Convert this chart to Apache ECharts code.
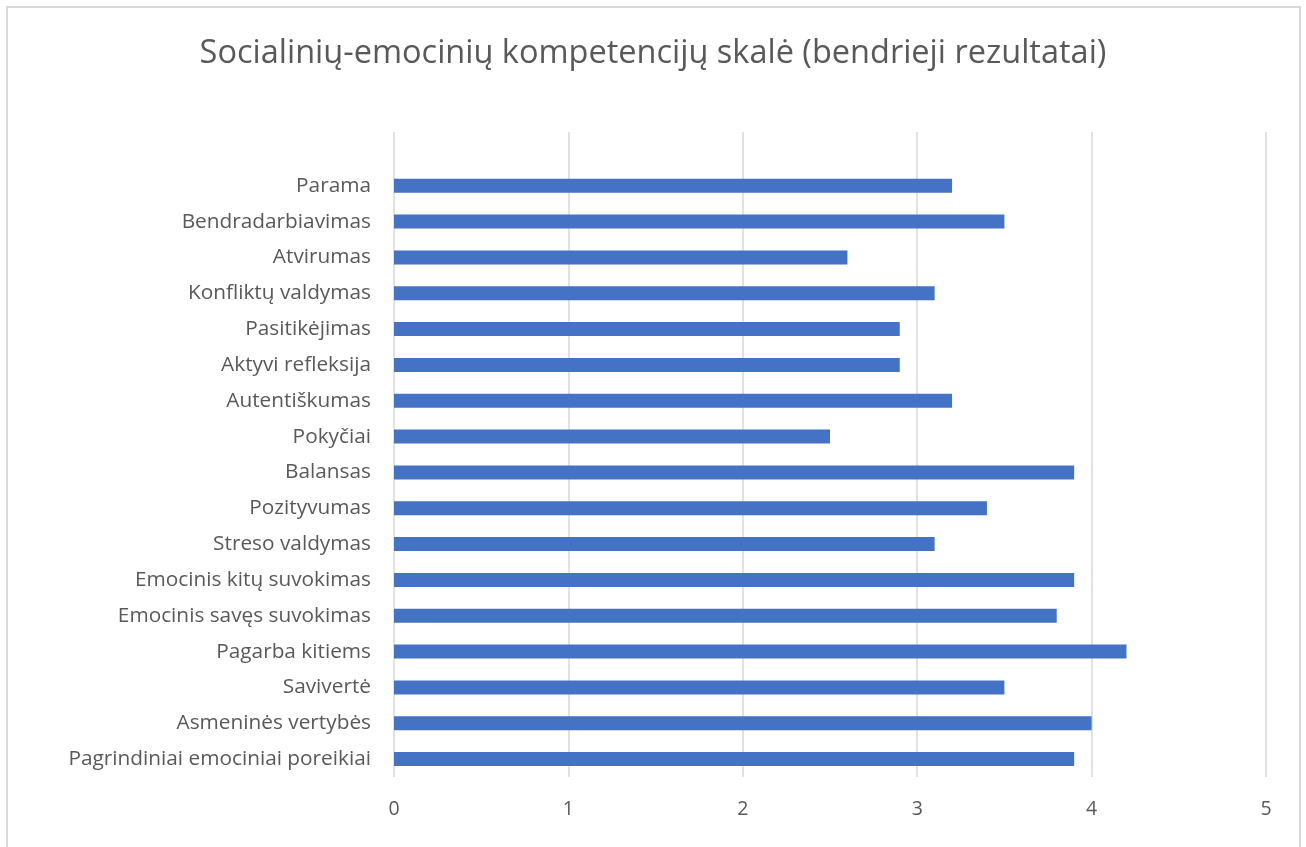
<!DOCTYPE html>
<html>
<head>
<meta charset="utf-8">
<script src="https://cdn.jsdelivr.net/npm/echarts@6/dist/echarts.min.js"></script>
<style>
  html, body { margin: 0; padding: 0; background: #fff; }
  #frame {
    position: absolute; left: 6px; top: 6px; width: 1295px; height: 860px;
    border: 2px solid #d9d9d9; box-sizing: border-box;
  }
  #chart { position: absolute; left: 0; top: 0; width: 1306px; height: 847px; }
</style>
</head>
<body>
<div id="frame"></div>
<div id="chart"></div>
<script>
const chart = echarts.init(document.getElementById('chart'));

// categories bottom to top, as the axis draws them
const categories = [
  'Pagrindiniai emociniai poreikiai',
  'Asmeninės vertybės',
  'Savivertė',
  'Pagarba kitiems',
  'Emocinis savęs suvokimas',
  'Emocinis kitų suvokimas',
  'Streso valdymas',
  'Pozityvumas',
  'Balansas',
  'Pokyčiai',
  'Autentiškumas',
  'Aktyvi refleksija',
  'Pasitikėjimas',
  'Konfliktų valdymas',
  'Atvirumas',
  'Bendradarbiavimas',
  'Parama'
];
const values = [3.9, 4.0, 3.5, 4.2, 3.8, 3.9, 3.1, 3.4, 3.9, 2.5, 3.2, 2.9, 2.9, 3.1, 2.6, 3.5, 3.2];
const xTicks = [0, 1, 2, 3, 4, 5];

const textColor = '#595959';
const fontFamily = '"Open Sans", "Noto Sans", sans-serif';

// Excel leaves one empty slot above the top bar
const axisCats = [...categories, ''];
const axisVals = [...values, null];

const option = {
  animation: false,
  title: {
    text: 'Socialinių-emocinių kompetencijų skalė (bendrieji rezultatai)',
    left: 'center',
    top: 32,
    textStyle: { color: textColor, fontSize: 32.5, fontWeight: 'normal', fontFamily }
  },
  grid: { left: 394, right: 40, top: 132, bottom: 70, containLabel: false },
  xAxis: {
    type: 'value',
    min: xTicks[0],
    max: xTicks[xTicks.length - 1],
    interval: 1,
    axisLine: { show: false },
    axisTick: { show: false },
    axisLabel: { color: textColor, fontSize: 19.5, fontFamily, margin: 22 },
    splitLine: { lineStyle: { color: '#d9d9d9', width: 1.5 } }
  },
  yAxis: {
    type: 'category',
    data: axisCats,
    axisLine: { show: false },
    axisTick: { show: false },
    axisLabel: { color: textColor, fontSize: 20.8, fontFamily, margin: 23 }
  },
  series: [{
    type: 'bar',
    data: axisVals,
    barWidth: 14,
    itemStyle: { color: '#4472c4' }
  }]
};

chart.setOption(option);
</script>
</body>
</html>
